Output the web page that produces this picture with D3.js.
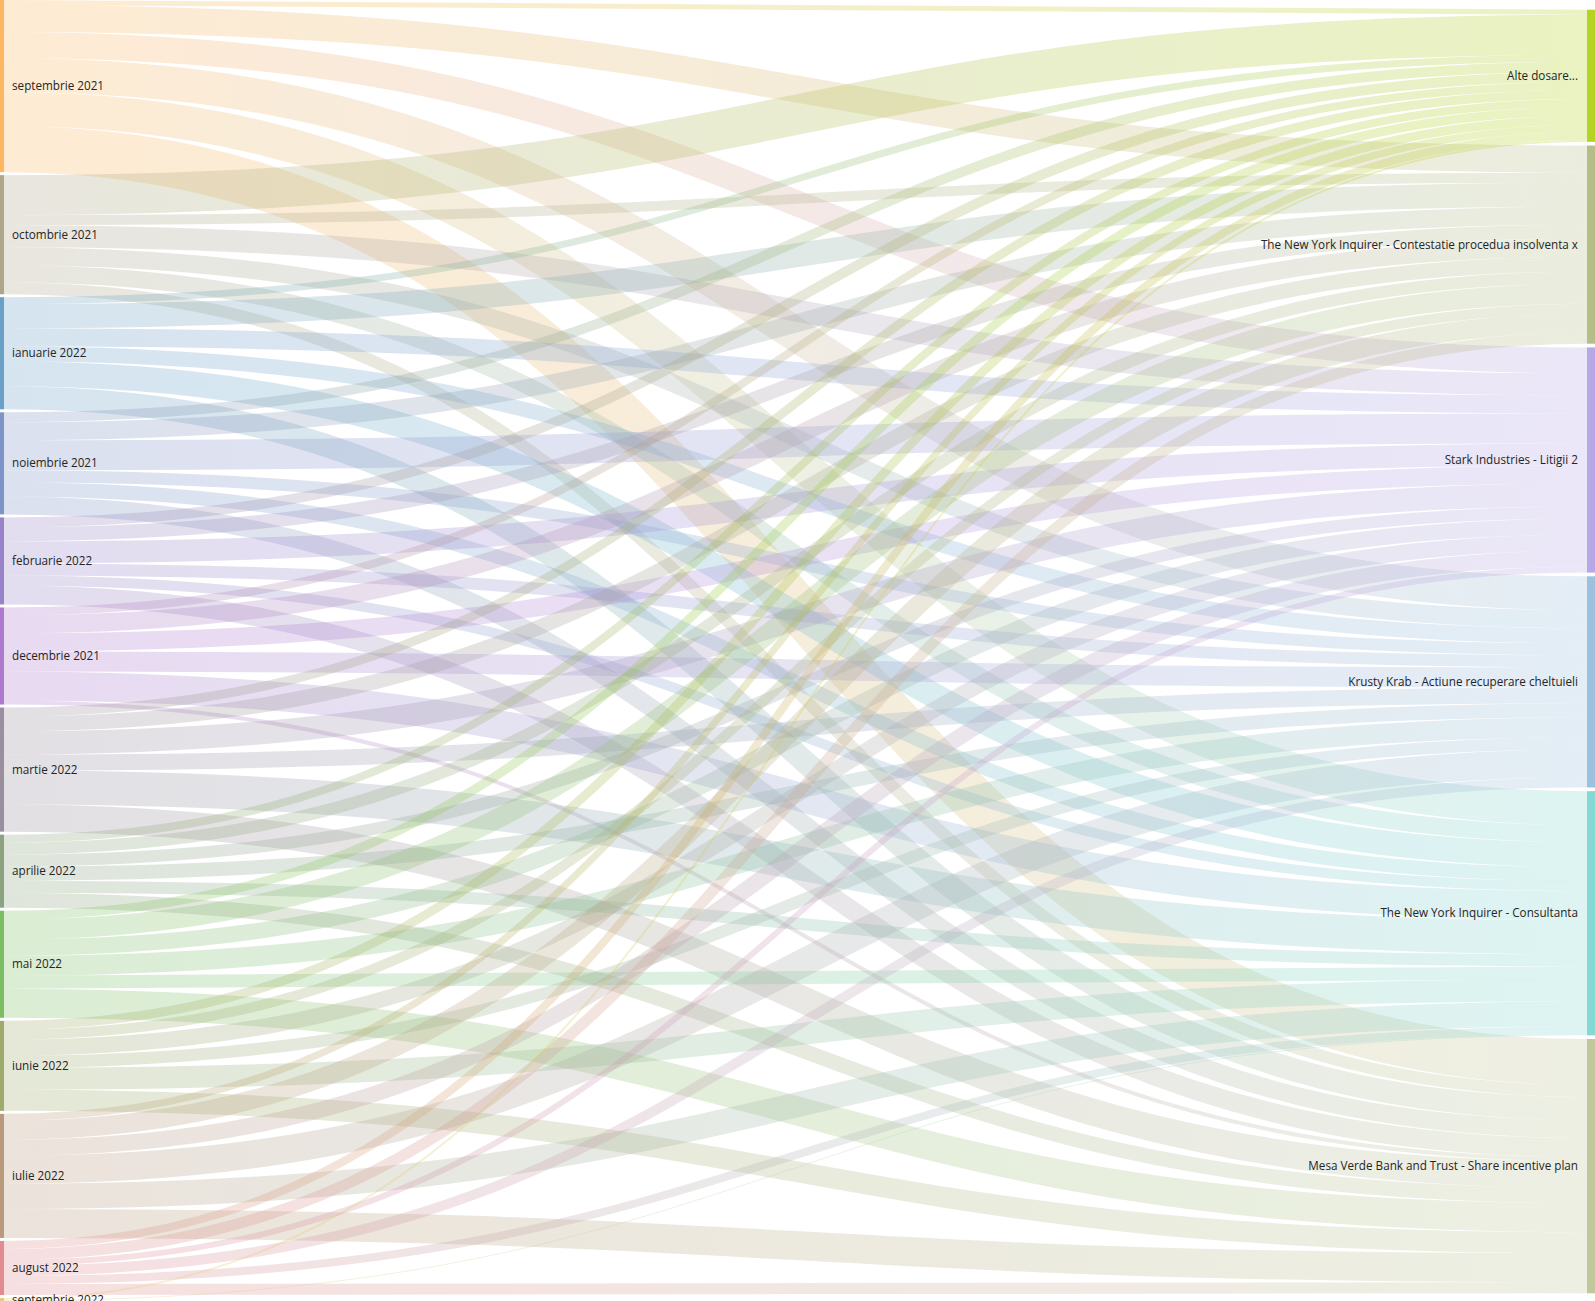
<!DOCTYPE html>
<html>
<head>
<meta charset="utf-8">
<script src="https://cdn.jsdelivr.net/npm/d3@7"></script>
<style>
html, body { margin: 0; padding: 0; background: #fff; overflow: hidden; }
svg { display: block; }
text { font-family: "Segoe UI", "Open Sans", "Noto Sans", sans-serif; font-size: 11.7px; fill: #252525; }
</style>
</head>
<body>
<svg id="chart"></svg>
<script>
// ---- DATA ----
const sources = ["septembrie 2021", "octombrie 2021", "ianuarie 2022", "noiembrie 2021", "februarie 2022",
  "decembrie 2021", "martie 2022", "aprilie 2022", "mai 2022", "iunie 2022", "iulie 2022", "august 2022", "septembrie 2022"];
const sourceColors = ["#FDB761", "#ADA68B", "#6A9FC8", "#7F93C8", "#9883C8", "#AE7ACD", "#9A8F9F",
  "#8BA37E", "#7CBF63", "#9EAB6D", "#B99A7D", "#E08C91", "#E8C87A"];
const targets = ["Alte dosare...", "The New York Inquirer - Contestatie procedua insolventa x", "Stark Industries - Litigii 2",
  "Krusty Krab - Actiune recuperare cheltuieli", "The New York Inquirer - Consultanta", "Mesa Verde Bank and Trust - Share incentive plan"];
const targetColors = ["#B5D323", "#B5BE88", "#B5A8E5", "#9CC0DD", "#85D8D3", "#C0C79A"];
// hours per month (rows = sources, columns = targets)
const valAlte    = [5, 40, 7, 10, 10, 8, 9, 8, 9, 9, 7, 8, 2];
const valContest = [27, 10, 24, 18, 14, 18, 15, 12, 20, 10, 19, 11, 0];
const valStark   = [26, 22, 18, 30, 22, 18, 23, 12, 16, 16, 16, 6, 0];
const valKrusty  = [34, 18, 15, 12, 12, 20, 16, 14, 20, 12, 28, 10, 0];
const valConsult = [34, 17, 25, 14, 10, 29, 34, 12, 13, 22, 25, 8, 1];
const valMesa    = [46, 12, 23, 18, 19, 4, 27, 15, 29, 21, 29, 11, 0];

const W = 1595, H = 1301;
const svg = d3.select("#chart").attr("width", W).attr("height", H);

const matrix = [valAlte, valContest, valStark, valKrusty, valConsult, valMesa];
const links = [];
targets.forEach((t, ti) => sources.forEach((s, si) => {
  const v = matrix[ti][si];
  if (v > 0) links.push({ s: si, t: ti, value: v });
}));

const srcTotals = sources.map((_, si) => d3.sum(matrix, r => r[si]));
const tgtTotals = matrix.map(r => d3.sum(r));
const total = d3.sum(srcTotals);

const padL = 3, padR = 3.7;
const ky = (H - padL * (sources.length - 1)) / total;
const k = d3.scaleLinear().domain([0, total]).range([0, total * ky]);

const nodeW = { left: [0, 4], right: [1587, 1595] };

// left column
let y = 0;
const sNodes = sources.map((name, i) => {
  const h = k(srcTotals[i]);
  const n = { name, color: sourceColors[i], x0: nodeW.left[0], x1: nodeW.left[1], y0: y, y1: y + h };
  y += h + padL; return n;
});
// right column centered
const rightTotal = k(total) + padR * (targets.length - 1);
y = (H - rightTotal) / 2 + 1;
const tNodes = targets.map((name, i) => {
  const h = k(tgtTotals[i]);
  const n = { name, color: targetColors[i], x0: nodeW.right[0], x1: nodeW.right[1], y0: y, y1: y + h };
  y += h + padR; return n;
});

// link positions
const sOff = sNodes.map(n => n.y0), tOff = tNodes.map(n => n.y0);
links.sort((a, b) => a.s - b.s || a.t - b.t);
sNodes.forEach((n, si) => {
  links.filter(l => l.s === si).sort((a, b) => a.t - b.t).forEach(l => {
    l.width = k(l.value); l.y0 = sOff[si] + l.width / 2; sOff[si] += l.width;
  });
});
tNodes.forEach((n, ti) => {
  links.filter(l => l.t === ti).sort((a, b) => a.s - b.s).forEach(l => {
    l.y1 = tOff[ti] + l.width / 2; tOff[ti] += l.width;
  });
});

const defs = svg.append("defs");
links.forEach((l, i) => {
  const g = defs.append("linearGradient").attr("id", "g" + i)
    .attr("gradientUnits", "userSpaceOnUse")
    .attr("x1", nodeW.left[1]).attr("x2", nodeW.right[0]);
  g.append("stop").attr("offset", "0%").attr("stop-color", sourceColors[l.s]);
  g.append("stop").attr("offset", "100%").attr("stop-color", targetColors[l.t]);
});

const linkGen = d3.linkHorizontal().source(d => [nodeW.left[1], d.y0]).target(d => [nodeW.right[0], d.y1]);

svg.append("g").attr("fill", "none")
  .selectAll("path").data(links).join("path")
  .attr("d", linkGen)
  .attr("stroke", (d, i) => `url(#g${i})`)
  .attr("stroke-opacity", 0.28)
  .attr("stroke-width", d => Math.max(1, d.width));

const allNodes = sNodes.concat(tNodes);
svg.append("g").selectAll("rect").data(allNodes).join("rect")
  .attr("x", d => d.x0).attr("y", d => d.y0)
  .attr("width", d => d.x1 - d.x0).attr("height", d => Math.max(1, d.y1 - d.y0))
  .attr("fill", d => d.color);

svg.append("g").selectAll("text").data(sNodes).join("text")
  .attr("x", d => d.x1 + 8).attr("y", d => (d.y0 + d.y1) / 2).attr("dy", "0.35em")
  .text(d => d.name);
svg.append("g").selectAll("text").data(tNodes).join("text")
  .attr("x", d => d.x0 - 9).attr("y", d => (d.y0 + d.y1) / 2).attr("dy", "0.35em")
  .attr("text-anchor", "end")
  .text(d => d.name);
</script>
</body>
</html>
